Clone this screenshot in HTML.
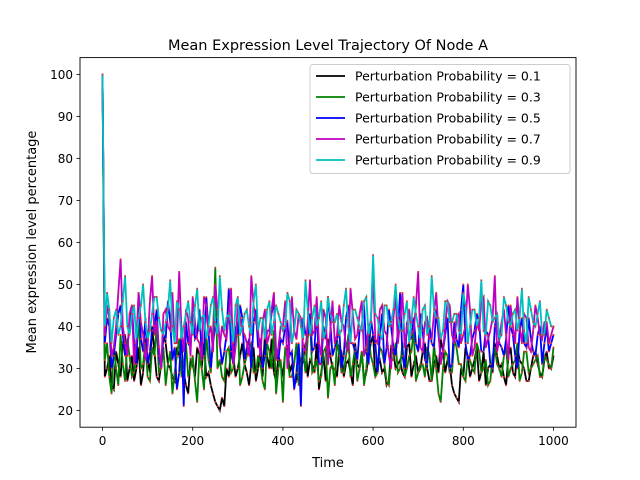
<!DOCTYPE html>
<html><head><meta charset="utf-8"><style>
body{margin:0;background:#fff;}
svg{display:block;font-family:"DejaVu Sans","Liberation Sans",sans-serif;}
</style></head><body>
<svg id="chart" width="640" height="480" viewBox="0 0 640 480">
<rect x="0" y="0" width="640" height="480" fill="#fff"/>
<text x="328" y="50" font-size="14.5" text-anchor="middle">Mean Expression Level Trajectory Of Node A</text>
<g id="plot"></g>
<rect x="80" y="57.6" width="496" height="369.6" fill="none" stroke="#000" stroke-width="0.9"/>
<g id="xticks"></g>
<g id="yticks"></g>
<text x="328" y="467" font-size="13" text-anchor="middle">Time</text>
<text transform="translate(36,242) rotate(-90)" font-size="13" text-anchor="middle">Mean expression level percentage</text>
<g id="legend"></g>
</svg>
<script>
const xTicks=[0,200,400,600,800,1000];
const yTicks=[20,30,40,50,60,70,80,90,100];
const seriesLabels=["Perturbation Probability = 0.1","Perturbation Probability = 0.3","Perturbation Probability = 0.5","Perturbation Probability = 0.7","Perturbation Probability = 0.9"];
const seriesColors=["#000000","#008000","#0000ff","#bf00bf","#00bfbf"];
const p01=[100,30,26,34,28,38,30,27,35,29,32,40,28,31,36,30,27,33,29,24,31,35,30,28,26,22,20,21,28,33,30,36,29,31,27,34,38,30,29,33,28,35,31,27,30,36,32,29,25,33,37,30,28,34,31,29,36,30,27,33,38,31,29,26,35,30,32,28,36,31,29,34,30,27,33,37,29,31,24,22,28,33,30,35,29,26,31,36,30,28,33,29,35,31,27,30,34,29,32,30,33];
const p01b=[28,33,25,31,36,27,33,30,26,37,29,34,27,38,31,28,35,30,26,32,28,33,36,29,24,21,23,30,35,28,33,31,26,35,30,28,33,37,27,31,34,29,26,35,32,28,31,36,29,27,33,30,35,28,32,26,31,34,29,36,28,32,30,27,34,31,29,35,28,33,30,36,27,31,29,34,32,26,23,30,35,28,32,27,34,30,29,33,31,26,35,28,32,30,27,33,31,28,34,30];
const p03=[100,36,24,30,38,27,33,29,42,31,28,35,40,30,26,34,29,37,31,28,33,22,30,38,29,54,32,27,35,30,41,28,33,36,29,31,25,34,39,30,22,33,28,36,31,29,42,30,27,34,23,31,37,29,33,28,35,30,26,38,31,29,34,27,32,36,30,28,33,39,29,31,35,27,30,22,34,29,37,31,28,33,30,36,29,32,27,35,30,33,28,31,36,29,34,30,32,28,33,31,35];
const p03b=[32,28,35,26,31,37,28,34,30,36,27,33,29,35,31,24,33,28,36,30,27,34,25,32,38,30,28,34,29,36,26,31,35,29,33,27,36,30,24,32,35,28,31,26,34,37,29,32,28,35,30,26,33,29,38,31,27,34,30,33,28,35,31,26,32,29,36,30,34,27,31,28,33,36,24,30,33,29,35,31,27,32,29,34,30,26,33,31,28,35,30,32,27,34,29,31,33,28,32,30];
const p05=[100,42,30,38,45,33,40,36,48,34,31,39,44,30,37,41,35,29,21,36,43,38,33,47,30,40,36,34,49,31,38,42,35,30,44,37,33,39,46,32,36,41,34,29,21,38,43,35,31,40,47,33,37,30,42,36,34,39,45,31,38,29,43,35,40,33,48,30,37,42,34,39,31,36,44,33,38,30,41,35,50,32,37,43,34,39,31,40,36,33,45,38,30,42,35,37,33,40,36,34,38];
const p05b=[36,40,33,43,38,35,45,31,37,42,34,40,33,38,46,32,25,39,41,35,37,44,33,39,36,42,31,38,34,40,45,32,37,41,35,30,39,43,34,37,40,33,25,36,42,38,34,44,31,37,41,35,39,33,45,36,32,40,34,42,36,38,31,44,35,39,33,41,37,36,43,32,40,35,38,34,42,31,37,44,36,33,39,41,34,38,30,43,35,37,40,33,39,36,42,34,38,31,40,36];
const p07=[100,45,33,40,56,36,43,31,48,38,35,52,41,30,44,39,36,53,34,42,47,37,32,45,40,50,35,38,43,31,46,39,36,52,41,33,44,38,48,35,40,30,47,37,42,34,51,39,36,44,31,46,38,41,35,49,37,43,33,40,52,36,45,38,30,47,41,35,44,39,53,34,42,37,48,31,40,45,36,43,38,50,33,41,46,35,39,52,37,44,32,40,47,36,42,34,45,38,41,36,40];
const p07b=[38,42,35,48,40,33,45,37,41,32,46,38,35,43,40,48,36,39,44,33,41,36,47,38,34,44,40,37,49,35,42,38,33,45,39,41,36,44,32,40,46,37,39,43,35,41,38,47,33,42,39,36,45,40,34,43,38,46,35,41,37,44,39,33,42,36,48,40,38,45,35,41,37,43,39,34,46,38,42,36,40,44,35,39,47,37,42,34,41,38,45,36,40,43,35,39,42,37,41,38];
const p09=[100,48,36,44,40,52,38,45,42,50,37,43,47,39,41,51,36,44,40,46,38,49,42,37,45,41,52,39,43,36,47,40,44,38,50,42,37,46,41,43,39,48,36,44,40,51,38,45,42,37,47,41,43,39,49,36,44,40,46,38,57,42,37,45,41,50,39,43,36,47,40,44,38,52,42,37,46,41,43,39,48,36,44,40,51,38,45,42,37,47,41,43,39,49,36,44,40,46,38,42,40];
const p09b=[40,44,42,38,46,40,43,37,45,41,39,47,42,38,44,40,46,37,43,41,45,39,43,40,47,38,44,42,41,45,38,43,40,46,39,42,44,38,45,41,40,46,39,43,37,44,42,40,46,39,43,41,38,45,40,44,42,39,47,41,43,38,45,40,44,42,39,46,41,43,37,45,40,44,42,39,46,41,43,38,45,40,44,42,39,46,41,43,38,45,40,44,42,39,47,41,43,38,44,40];
const mainSeries=[p01,p03,p05,p07,p09];
const midSeries=[p01b,p03b,p05b,p07b,p09b];
const NS="http://www.w3.org/2000/svg";
function X(t){return 80+(t+50)/1100*496;}
function Y(v){return 427.2-(v-16)/88*369.6;}
function mk(tag,attrs,parent){const e=document.createElementNS(NS,tag);for(const k in attrs)e.setAttribute(k,attrs[k]);parent.appendChild(e);return e;}
function merge(a,b){const out=[];a.forEach((v,i)=>{out.push(v);if(i<b.length&&i<a.length-1)out.push(b[i]);});return out;}
const plot=document.getElementById('plot');
mainSeries.forEach((a,si)=>{
  const s=merge(a,midSeries[si]);
  const n=s.length;let d='';
  s.forEach((v,i)=>{const t=i*1000/(n-1);d+=(i?'L':'M')+X(t).toFixed(1)+' '+Y(v).toFixed(1);});
  const p=mk('path',{d:d,fill:'none',stroke:seriesColors[si],'stroke-width':1.8,'stroke-linejoin':'miter'},plot);
  
  
  s.forEach((v,i)=>{const t=i*1000/(n-1);
    const c=mk('rect',{x:X(t)-0.8,y:Y(v)-0.8,width:1.6,height:1.6,fill:'#e03030'},plot);
    
    
  });
});
const xg=document.getElementById('xticks');
xTicks.forEach(t=>{
  const l=mk('line',{x1:X(t),x2:X(t),y1:427.2,y2:430.7,stroke:'#000','stroke-width':0.8},xg);
  
  
  const tx=mk('text',{x:X(t),y:445,'font-size':12,'text-anchor':'middle'},xg);tx.textContent=t;
  
  
});
const yg=document.getElementById('yticks');
yTicks.forEach(v=>{
  const l=mk('line',{x1:76.5,x2:80,y1:Y(v),y2:Y(v),stroke:'#000','stroke-width':0.8},yg);
  
  
  const tx=mk('text',{x:73,y:Y(v)+4.5,'font-size':12,'text-anchor':'end'},yg);tx.textContent=v;
  
  
});
const lg=document.getElementById('legend');
const box=mk('rect',{x:310,y:64.5,width:260,height:109,rx:3,fill:'#fff','fill-opacity':0.85,stroke:'#ccc','stroke-width':1},lg);


seriesLabels.forEach((lab,i)=>{
  const y=76+i*21;
  const l=mk('line',{x1:316,x2:345,y1:y,y2:y,stroke:seriesColors[i],'stroke-width':1.8},lg);
  
  
  const t=mk('text',{x:355,y:y+4.5,'font-size':12.5},lg);t.textContent=lab;
  
  
});
</script>
</body></html>
